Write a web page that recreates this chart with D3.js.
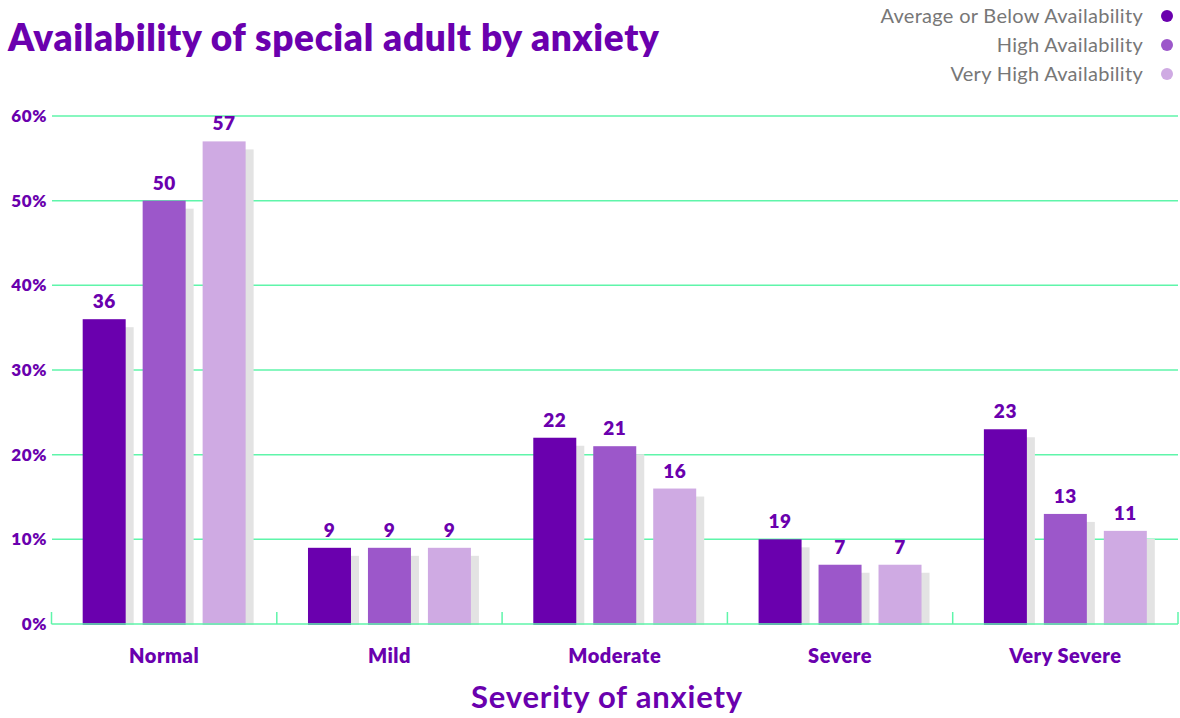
<!DOCTYPE html>
<html><head><meta charset="utf-8">
<script src="https://cdn.jsdelivr.net/npm/d3@7"></script>
<style>body{margin:0;background:#fff;} svg{display:block;font-family:Lato,"Noto Sans",sans-serif;}</style>
</head><body>
<svg id="c" width="1180" height="718"></svg>
<script>
const categories = ["Normal","Mild","Moderate","Severe","Very Severe"];
const seriesNames = ["Average or Below Availability","High Availability","Very High Availability"];
const seriesColors = ["#6a00ae","#9c57ca","#cfaae3"];
const avgOrBelow = [36, 9, 22, 10, 23];
const high = [50, 9, 21, 7, 13];
const veryHigh = [57, 9, 16, 7, 11];
const avgOrBelowLabels = ["36","9","22","19","23"];
const highLabels = ["50","9","21","7","13"];
const veryHighLabels = ["57","9","16","7","11"];
const yTicks = [0,10,20,30,40,50,60];

const values = [avgOrBelow, high, veryHigh];
const labels = [avgOrBelowLabels, highLabels, veryHighLabels];
const purple = "#6a00ae", green = "#5ff5aa";

const svg = d3.select("#c");
const x0 = d3.scaleBand().domain(categories).range([51.5, 1178]).padding(0);
const x1 = d3.scaleBand().domain(d3.range(3)).range([0, x0.bandwidth()]).paddingInner(0.283).paddingOuter(0.52);
const y = d3.scaleLinear().domain([0, 60]).range([624, 116]);

// grid
svg.append("g").selectAll("line").data(yTicks.filter(d=>d>0)).join("line")
  .attr("x1", 52).attr("x2", 1178).attr("y1", d=>y(d)).attr("y2", d=>y(d))
  .attr("stroke", green).attr("stroke-width", 1.5);

// y labels
svg.append("g").selectAll("text").data(yTicks).join("text")
  .attr("x", 47).attr("y", d=>y(d)).attr("dy","0.35em").attr("text-anchor","end")
  .attr("fill", purple).attr("font-weight", 800).attr("font-size", 17)
  .attr("letter-spacing", 0.6)
  .text(d=>d+"%");

// bars
const groups = svg.append("g").selectAll("g").data(categories).join("g")
  .attr("transform", d=>`translate(${x0(d)},0)`);
groups.each(function(cat, ci){
  const g = d3.select(this);
  const items = d3.range(3).map(si=>({si, v: values[si][ci], l: labels[si][ci]}));
  g.selectAll("rect.sh").data(items).join("rect").attr("class","sh")
    .attr("x", d=>x1(d.si)+8).attr("width", x1.bandwidth())
    .attr("y", d=>y(d.v)+8).attr("height", d=>Math.max(0, y(0)-y(d.v)-7))
    .attr("fill", "#e3e3e3");
  g.selectAll("rect.b").data(items).join("rect").attr("class","b")
    .attr("x", d=>x1(d.si)).attr("width", x1.bandwidth())
    .attr("y", d=>y(d.v)).attr("height", d=>y(0)-y(d.v)+1)
    .attr("fill", d=>seriesColors[d.si]);
  g.selectAll("text").data(items).join("text")
    .attr("x", d=>x1(d.si)+x1.bandwidth()/2).attr("y", d=>y(d.v)-11)
    .attr("text-anchor","middle").attr("fill", purple)
    .attr("font-weight", 800).attr("font-size", 19).attr("letter-spacing", 0.5).text(d=>d.l);
});

// x axis baseline and ticks
const xAxis = svg.append("g").attr("transform", "translate(0,624)");
xAxis.append("line").attr("x1", 51.5).attr("x2", 1178).attr("stroke", green).attr("stroke-width", 1.5);
const bounds = categories.map(c=>x0(c)).concat([x0.range()[1]]);
xAxis.selectAll("line.t").data(bounds).join("line").attr("class","t")
  .attr("x1", d=>d).attr("x2", d=>d).attr("y1", 0).attr("y2", -12)
  .attr("stroke", green).attr("stroke-width", 1.5);
xAxis.selectAll("text").data(categories).join("text")
  .attr("x", d=>x0(d)+x0.bandwidth()/2).attr("y", 39)
  .attr("text-anchor","middle").attr("fill", purple)
  .attr("font-weight", 800).attr("font-size", 20).attr("letter-spacing", 0.5).text(d=>d);

// axis title
svg.append("text").attr("x", 607).attr("y", 708).attr("text-anchor","middle")
  .attr("fill", purple).attr("font-weight", 700).attr("font-size", 31).attr("letter-spacing", 0.8)
  .text("Severity of anxiety");

// title
svg.append("text").attr("x", 8).attr("y", 51).attr("fill", purple)
  .attr("font-weight", 800).attr("font-size", 37).attr("letter-spacing", 0.65)
  .text("Availability of special adult by anxiety");

// legend
const leg = svg.append("g").selectAll("g").data(seriesNames).join("g")
  .attr("transform", (d,i)=>`translate(0,${16 + i*29})`);
leg.append("text").attr("x", 1143).attr("dy","0.35em").attr("text-anchor","end")
  .attr("fill", "#777").attr("font-size", 20).attr("letter-spacing", 0.3).text(d=>d);
leg.append("circle").attr("cx", 1167).attr("r", 6).attr("fill", (d,i)=>seriesColors[i]);
</script>
</body></html>
